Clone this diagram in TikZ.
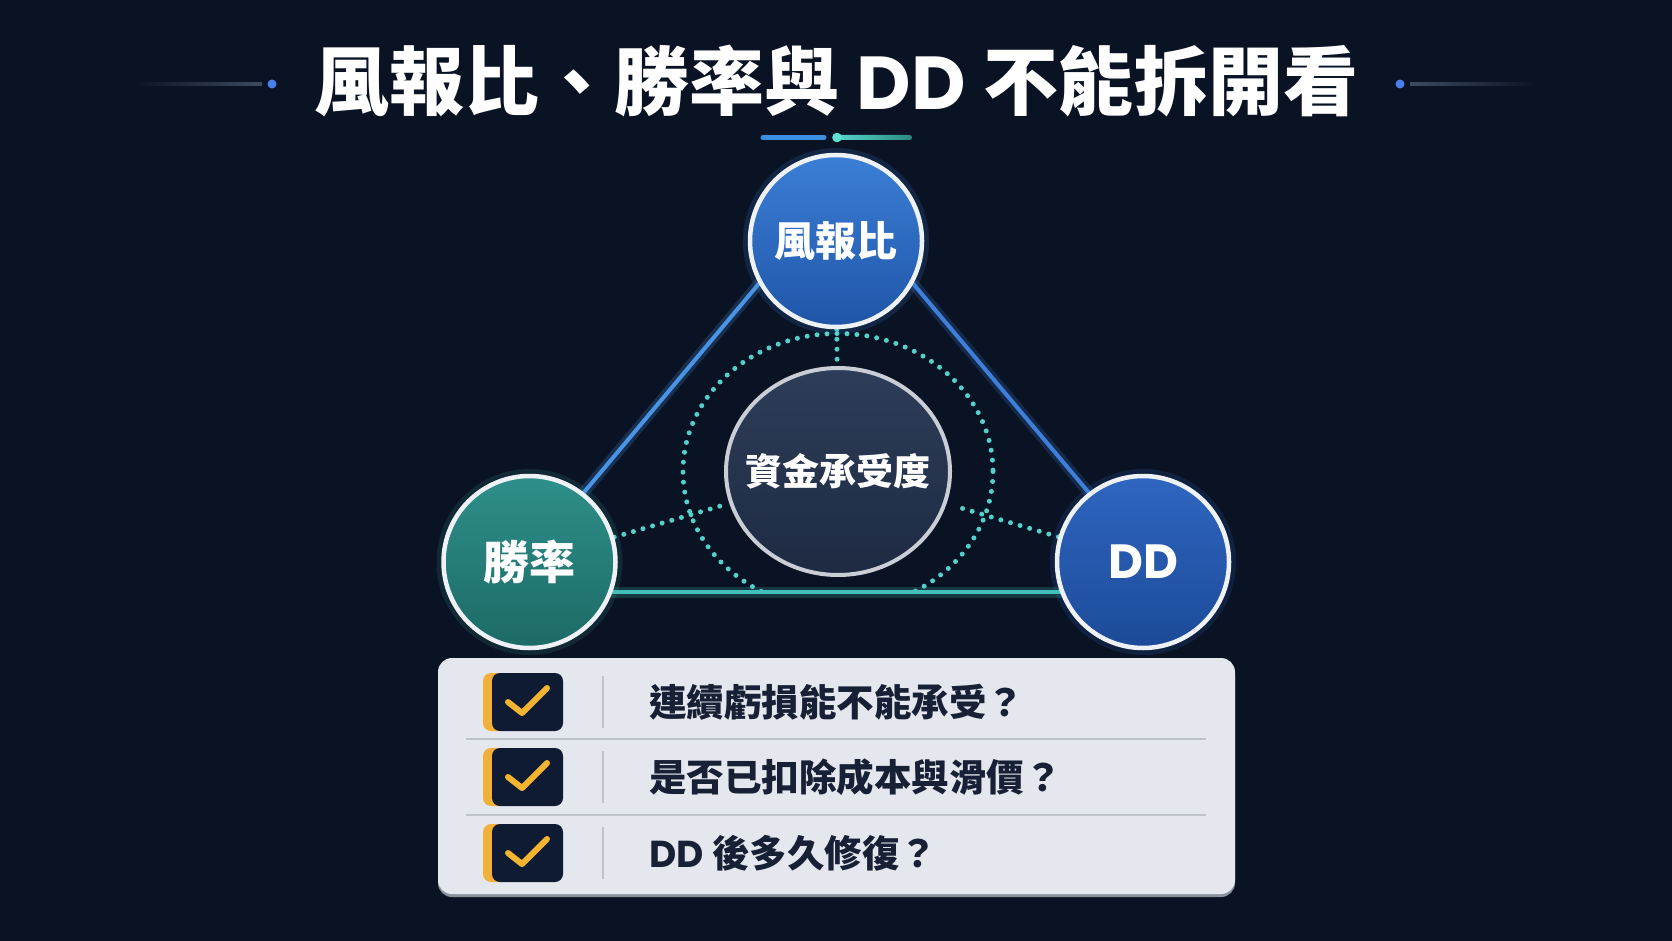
\documentclass[tikz,border=0pt]{standalone}
\usepackage{fontspec}
\setmainfont{Noto Sans CJK TC}
\newfontfamily\titlefont{Noto Sans CJK TC}[UprightFont=* Black]
\newfontfamily\latf{Poppins}
\usetikzlibrary{calc,shapes.geometric}
\definecolor{bg}{HTML}{0A1323}
\definecolor{bluebar}{HTML}{3B8FE0}
\definecolor{tealdot}{HTML}{5EE0D2}
\definecolor{tealA}{HTML}{55D6C8}
\definecolor{tealB}{HTML}{2C8A82}
\definecolor{decoline}{HTML}{3D4A5E}
\definecolor{decodot}{HTML}{4A80EE}
\definecolor{lineL}{HTML}{4A94E6}
\definecolor{lineR}{HTML}{3F7FD9}
\definecolor{lineB}{HTML}{40C0B8}
\definecolor{ringc}{HTML}{55D0C8}
\definecolor{topA}{HTML}{3B7FD6}
\definecolor{topB}{HTML}{1F55A8}
\definecolor{leftA}{HTML}{2E8F8A}
\definecolor{leftB}{HTML}{1D6A66}
\definecolor{rightA}{HTML}{2F66C0}
\definecolor{rightB}{HTML}{1C4A98}
\definecolor{midA}{HTML}{2E3D58}
\definecolor{midB}{HTML}{1E2A42}
\definecolor{rimc}{HTML}{EEF2F7}
\definecolor{midrim}{HTML}{C8CDD6}
\definecolor{panelc}{HTML}{E4E8EE}
\definecolor{panelsh}{HTML}{8C939D}
\definecolor{sepc}{HTML}{BFC4CC}
\definecolor{boxc}{HTML}{0F1A33}
\definecolor{tabc}{HTML}{F2B03A}
\definecolor{checkc}{HTML}{F4B430}
\definecolor{rowtxt}{HTML}{182035}
\pgfdeclarelayer{bgl}
\pgfsetlayers{bgl,main}
\begin{document}
\begin{tikzpicture}[x=1pt,y=-1pt,
  titletext/.style={text=white,font=\titlefont\fontsize{75}{82}\selectfont,inner sep=0pt},
  bignode/.style={circle,minimum size=172pt,inner sep=0pt,draw=rimc,line width=4.5pt,text=white},
  halo/.style={circle,minimum size=186pt,inner sep=0pt,fill=#1,opacity=0.18},
  midnode/.style={ellipse,minimum width=224pt,minimum height=207pt,inner sep=0pt,draw=midrim,line width=4pt,top color=midA,bottom color=midB},
  midlabel/.style={text=white,font=\bfseries\fontsize{37}{42}\selectfont,inner sep=0pt},
  glow/.style={line width=11pt,opacity=0.22,line cap=round},
  edgeline/.style={line width=4pt,line cap=round},
  ring/.style={ringc,line width=5pt,line cap=round,dash pattern=on 0pt off 10pt},
  spoke/.style={ringc,line width=5pt,line cap=round,dash pattern=on 0pt off 10pt},
  tabbox/.style={rectangle,rounded corners=8pt,fill=tabc,minimum width=24pt,minimum height=58pt,inner sep=0pt},
  chkbox/.style={rectangle,rounded corners=8pt,fill=boxc,minimum width=71pt,minimum height=58pt,inner sep=0pt},
  checkmark/.style={checkc,line width=6pt,line cap=round,line join=round},
  rowtext/.style={anchor=west,text=rowtxt,font=\bfseries\fontsize{37.5}{42}\selectfont,inner sep=0pt},
  divider/.style={sepc,line width=2pt},
  sepline/.style={sepc,line width=2pt}]
\useasboundingbox (0,0) rectangle (1672,941);
\begin{pgfonlayer}{bgl}
\fill[bg] (0,0) rectangle (1672,941);
\end{pgfonlayer}

% title decorations
\shade[left color=bg,right color=decoline] (133,82.8) rectangle (262,85.2);
\fill[decodot] (272,84) circle (4.5);
\shade[left color=decoline,right color=bg] (1410,82.8) rectangle (1539,85.2);
\fill[decodot] (1400,84) circle (4.5);
\node[titletext,anchor=base] (title) at (836.5,110) {風報比、勝率與 {\latf\bfseries DD} 不能拆開看};
\draw[bluebar,line width=5pt,line cap=round] (763,137.5) -- (824,137.5);
\shade[left color=tealA,right color=tealB,rounded corners=2.5pt] (837,135) rectangle (912,140);
\fill[tealdot] (837,137.5) circle (4.8);

% nodes
\node[bignode,top color=topA,bottom color=topB,font=\bfseries\fontsize{41}{46}\selectfont] (T) at (836,241) {風報比};
\node[bignode,top color=leftA,bottom color=leftB,font=\bfseries\fontsize{46}{50}\selectfont] (L) at (529.5,562) {勝率};
\node[bignode,top color=rightA,bottom color=rightB,font=\latf\bfseries\fontsize{48}{52}\selectfont] (R) at (1143,562) {DD};
\node[midnode,label={[midlabel]center:資金承受度}] (C) at (838,471.5) {};

\begin{pgfonlayer}{bgl}
\node[halo=topA] (hT) at (T) {};
\node[halo=leftA] (hL) at (L) {};
\node[halo=rightA] (hR) at (R) {};
\begin{scope}
\clip (0,0) rectangle (1672,590);
\draw[ring] (C.center) ellipse [x radius=155, y radius=138];
\end{scope}
\draw[spoke] (T) -- (C);
\draw[spoke,shorten >=8pt] (L) -- (C);
\draw[spoke,shorten >=8pt] (R) -- (C);
\draw[glow,lineL] (T.209) -- (L.52);
\draw[edgeline,lineL] (T.209) -- (L.52);
\draw[glow,lineR] (T.331) -- (R.128);
\draw[edgeline,lineR] (T.331) -- (R.128);
\draw[glow,lineB] (L.340) -- (R.200);
\draw[edgeline,lineB] (L.340) -- (R.200);
\end{pgfonlayer}

% checklist panel
\fill[panelsh,rounded corners=14pt] (438,662) rectangle (1235,897);
\fill[panelc,rounded corners=14pt] (438,658) rectangle (1235,894);
\draw[sepline] (466,739) -- (1206,739);
\draw[sepline] (466,815) -- (1206,815);

\foreach \i/\yc in {1/702,2/777,3/853}{
  \node[tabbox] (t\i) at (495,\yc) {};
  \node[chkbox] (b\i) at (527.5,\yc) {};
  \draw[checkmark] ($(b\i.center)+(-19.5,0)$) -- ($(b\i.center)+(-5.5,11)$) -- ($(b\i.center)+(19.5,-14)$);
  \draw[divider] (603,\yc-26) -- (603,\yc+26);
}
\node[rowtext] (r1) at (649,702) {連續虧損能不能承受？};
\node[rowtext] (r2) at (649,777) {是否已扣除成本與滑價？};
\node[rowtext] (r3) at (649,853) {{\latf\bfseries DD} 後多久修復？};
\end{tikzpicture}
\end{document}
